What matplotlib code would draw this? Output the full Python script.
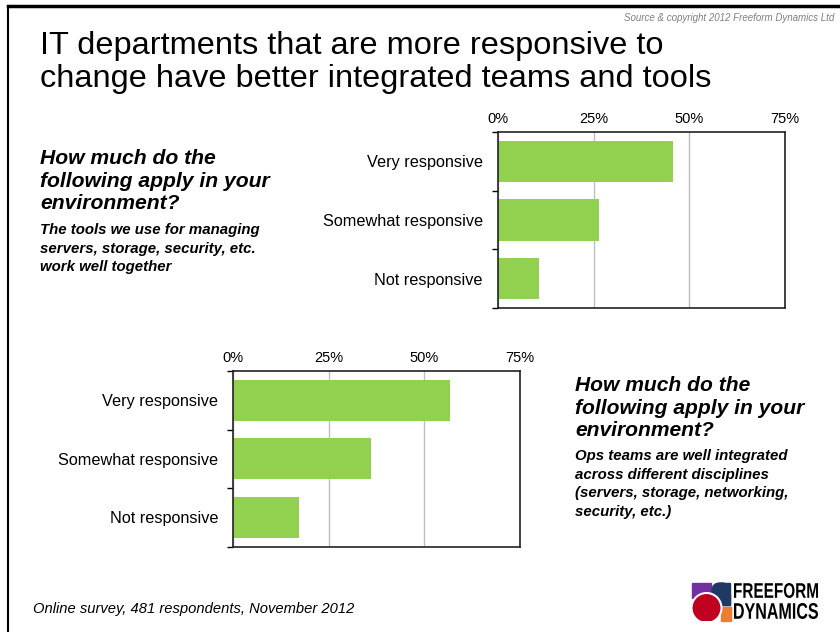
import matplotlib.pyplot as plt
import matplotlib.transforms as mtransforms
from matplotlib.patches import Rectangle, Circle, FancyBboxPatch, PathPatch
from matplotlib.lines import Line2D
from matplotlib.textpath import TextPath
from matplotlib.font_manager import FontProperties

categories = ['Very responsive', 'Somewhat responsive', 'Not responsive']
tools_pct = [45.7, 26.3, 10.6]
ops_pct = [56.7, 36.0, 17.2]
x_ticks = [0, 25, 50, 75]
x_labels = ['0%', '25%', '50%', '75%']

plt.rcParams['font.family'] = ['Liberation Sans', 'DejaVu Sans']
green = '#92D050'

fig = plt.figure(figsize=(8.4, 6.32), dpi=100)


def bar_panel(rect, values):
    ax = fig.add_axes(rect)
    y = range(len(categories))
    ax.barh(y, values, height=0.7, color=green, zorder=2)
    ax.set_xlim(0, 75)
    ax.set_ylim(len(categories) - 0.5, -0.5)
    ax.set_xticks(x_ticks)
    ax.set_xticklabels(x_labels, fontsize=10.5)
    ax.xaxis.tick_top()
    ax.tick_params(axis='x', length=0, pad=4)
    ax.set_yticks([-0.5, 0.5, 1.5, 2.5])
    ax.set_yticklabels([])
    ax.tick_params(axis='y', which='major', length=4, direction='out', width=1)
    ax.set_yticks(list(y), minor=True)
    ax.set_yticklabels(categories, minor=True, fontsize=11.7)
    ax.tick_params(axis='y', which='minor', length=0, pad=11)
    ax.grid(axis='x', color='#bfbfbf', linewidth=1, zorder=0)
    for s in ax.spines.values():
        s.set_linewidth(1.2)
        s.set_color('#222222')
    return ax


bar_panel([0.5929, 0.5127, 0.3417, 0.2785], tools_pct)
bar_panel([0.2778, 0.1350, 0.3413, 0.2780], ops_pct)

# frame lines
fig.add_artist(Line2D([7.5 / 840, 7.5 / 840], [0, 1 - 6 / 632], color='black', lw=1.5))
fig.add_artist(Line2D([7.5 / 840, 1], [1 - 6 / 632, 1 - 6 / 632], color='black', lw=2.5))

fig.text(834 / 840, 1 - 18 / 632, 'Source & copyright 2012 Freeform Dynamics Ltd',
         ha='right', va='center', fontsize=7, style='italic', color='#808080')

fig.text(40 / 840, 1 - 31 / 632,
         'IT departments that are more responsive to\nchange have better integrated teams and tools',
         ha='left', va='top', fontsize=23.4, linespacing=1.14)

q = 'How much do the\nfollowing apply in your\nenvironment?'
fig.text(40 / 840, 1 - 149 / 632, q, ha='left', va='top', fontsize=15.2,
         weight='bold', style='italic', linespacing=1.24)
fig.text(40 / 840, 1 - 223 / 632,
         'The tools we use for managing\nservers, storage, security, etc.\nwork well together',
         ha='left', va='top', fontsize=10.85, weight='bold', style='italic', linespacing=1.42)

fig.text(575 / 840, 1 - 376 / 632, q, ha='left', va='top', fontsize=15.1,
         weight='bold', style='italic', linespacing=1.24)
fig.text(575 / 840, 1 - 449 / 632,
         'Ops teams are well integrated\nacross different disciplines\n(servers, storage, networking,\nsecurity, etc.)',
         ha='left', va='top', fontsize=10.85, weight='bold', style='italic', linespacing=1.42)

fig.text(33 / 840, 1 - 609 / 632, 'Online survey, 481 respondents, November 2012',
         ha='left', va='center', fontsize=10.6, style='italic')

# logo, data units = pixels (origin at x=690, y=578)
lax = fig.add_axes([690 / 840, 1 - 623 / 632, 140 / 840, 45 / 632])
lax.set_xlim(0, 140)
lax.set_ylim(45, 0)
lax.axis('off')
blue = '#1F3864'
lax.add_patch(Rectangle((2, 5), 19, 15, color='#7030A0'))
lax.add_patch(FancyBboxPatch((22, 5), 18, 22, boxstyle='round,pad=0,rounding_size=8', color=blue))
lax.add_patch(Rectangle((31, 5), 9, 22, color=blue))
lax.add_patch(Rectangle((22, 16), 18, 11, color=blue))
lax.add_patch(Rectangle((31, 29), 9.5, 14, color='#ED7D31'))
red = Circle((16.5, 30), 15, facecolor='#C00020', edgecolor='white', lw=1.5)
lax.add_patch(red)
red.set_clip_path(Rectangle((2, 0), 45, 43, transform=lax.transData))

fp = FontProperties(family='Liberation Sans', weight='bold')
for word, top, bottom in [('FREEFORM', 5, 20), ('DYNAMICS', 25, 41)]:
    tp = TextPath((0, 0), word, size=10, prop=fp)
    bb = tp.get_extents()
    tr = (mtransforms.Affine2D()
          .translate(-bb.x0, -bb.y0)
          .scale(84 / bb.width, -(bottom - top) / bb.height)
          .translate(44, bottom))
    lax.add_patch(PathPatch(tr.transform_path(tp), color='black', lw=0))

fig.savefig('out.png', dpi=100)
